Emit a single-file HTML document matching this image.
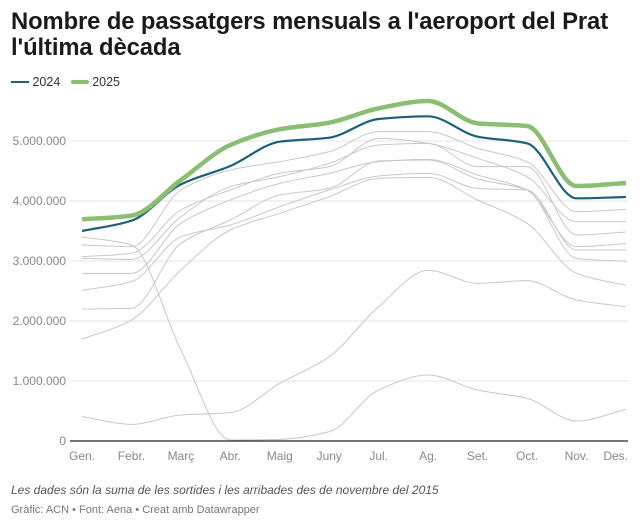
<!DOCTYPE html>
<html><head><meta charset="utf-8"><style>
body{margin:0;width:640px;height:526px;background:#fff;font-family:"Liberation Sans",sans-serif;position:relative;overflow:hidden}
.t{position:absolute;left:11px;top:9px;font-size:23.8px;font-weight:bold;color:#1a1a1a;line-height:26px;letter-spacing:-0.1px}
.lg{position:absolute;top:74px;left:11px;font-size:12.5px;color:#333}
.lg span{display:inline-block;vertical-align:middle}
.f1{position:absolute;left:11px;top:483px;font-size:12px;font-style:italic;color:#555}
.f2{position:absolute;left:11px;top:504px;font-size:11px;color:#777}
svg{position:absolute;left:0;top:0}
</style></head><body>
<div class="t">Nombre de passatgers mensuals a l'aeroport del Prat<br>l'última dècada</div>
<div class="lg"><span style="width:18px;height:2px;background:#1f5f7a"></span> <span>2024</span>&nbsp;&nbsp; <span style="width:18px;height:4px;background:#8bbd72;border-radius:2px"></span> <span>2025</span></div>
<svg id="s" width="640" height="526" xmlns="http://www.w3.org/2000/svg" font-family="Liberation Sans, sans-serif"></svg>
<div class="f1">Les dades són la suma de les sortides i les arribades des de novembre del 2015</div>
<div class="f2">Gràfic: ACN • Font: Aena • Creat amb Datawrapper</div>
<script>
var s=document.getElementById('s'),h='';
var ylab=['0','1.000.000','2.000.000','3.000.000','4.000.000','5.000.000'];
for(var i=0;i<6;i++){var y=441-60*i;
 if(i>0)h+='<line x1="70" x2="628" y1="'+y+'" y2="'+y+'" stroke="#e6e6e6"/>';
 h+='<text x="66" y="'+(y+4)+'" text-anchor="end" font-size="12" fill="#888">'+ylab[i]+'</text>';}
var m=['Gen.','Febr.','Març','Abr.','Maig','Juny','Jul.','Ag.','Set.','Oct.','Nov.','Des.'];
function X(i){return 82+49.45*i}
for(i=0;i<12;i++){var anc=i==11?'end':'middle';var xx=i==11?628:X(i);
 h+='<text x="'+xx+'" y="460" text-anchor="'+anc+'" font-size="12" fill="#888">'+m[i]+'</text>';}
function P(z){var n=z.length,dx=49.45,ys=z.map(function(v){return v/3+90});
 var d=[],t=[];for(var i=0;i<n-1;i++)d.push((ys[i+1]-ys[i])/dx);
 for(i=0;i<n;i++){if(i==0)t.push(d[0]);else if(i==n-1)t.push(d[n-2]);
  else if(d[i-1]*d[i]<=0)t.push(0);else{var a=d[i-1],b=d[i];t.push(2/(1/a+1/b));}}
 var p='M'+X(0)+','+ys[0];
 for(i=0;i<n-1;i++){p+=' C'+(X(i)+dx/3)+','+(ys[i]+t[i]*dx/3)+' '+(X(i+1)-dx/3)+','+(ys[i+1]-t[i+1]*dx/3)+' '+X(i+1)+','+ys[i+1];}
 return p;}
var g=[
[441,465,780,1050,1048,1025,900,855,900,925,993,958],
[980,1003,975,968,880,800,650,541,580,572,630,650],
[465,470,300,240,215,185,125,125,175,215,365,358],
[500,490,360,300,250,230,145,160,205,260,395,395],
[505,508,380,290,260,220,165,160,230,230,435,426],
[550,550,400,330,280,250,215,208,255,300,470,461],
[601,575,440,405,350,300,258,250,295,300,480,480],
[657,655,460,390,315,295,213,210,267,300,505,514],
[748,690,540,420,370,320,265,262,330,400,550,586]];
g.forEach(function(z){h+='<path d="'+P(z)+'" fill="none" stroke="#c8c8c8" stroke-width="1"/>';});
h+='<line x1="70" x2="628" y1="441" y2="441" stroke="#222" stroke-width="1.2"/>';
h+='<path d="'+P([423,392,283,228,155,143,87,79,140,160,325,321])+'" fill="none" stroke="#1f5f7a" stroke-width="2.2"/>';
h+='<path d="'+P([388,377,270,165,118,98,55,33,100,108,288,279])+'" fill="none" stroke="#8bbd72" stroke-width="4.5"/>';
s.innerHTML=h;
</script>
</body></html>
